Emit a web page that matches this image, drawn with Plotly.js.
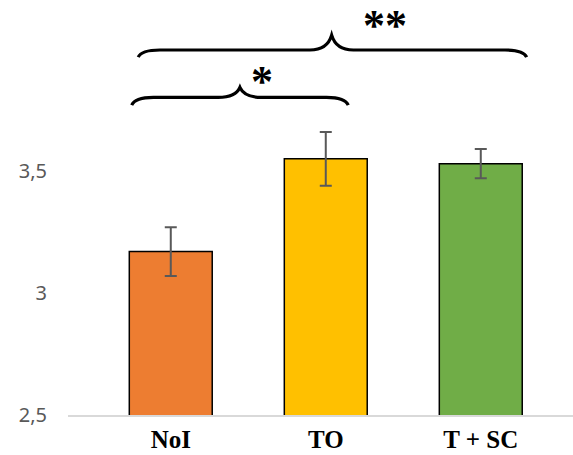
<!DOCTYPE html>
<html>
<head>
<meta charset="utf-8">
<script src="https://cdn.plot.ly/plotly-3.0.1.min.js"></script>
<style>
  html, body { margin: 0; padding: 0; background: #fff; }
  #chart { width: 573px; height: 455px; }
</style>
</head>
<body>
<div id="chart"></div>
<script>
// Group means with their error margins
const groups = ['NoI', 'TO', 'T + SC'];
const means = [3.17, 3.55, 3.53];
const errors = [0.10, 0.11, 0.06];
const barColors = ['#ED7D31', '#FFC000', '#70AD47'];

// Y axis ticks (decimal comma)
const yTickVals = [2.5, 3, 3.5];
const yTickText = ['2,5', '3', '3,5'];

// Significance markers for the two braces
const sigLabels = ['*', '**'];

const idx = groups.map((_, i) => i);

const trace = {
  type: 'bar',
  x: idx,
  y: means,
  width: 0.535,
  marker: { color: barColors, line: { color: '#000', width: 1.5 } },
  error_y: { type: 'data', array: errors, visible: true, color: '#595959', thickness: 2, width: 6 },
  hoverinfo: 'skip'
};

// Curly brace drawn as a path in data coordinates
function brace(x0, x1, xm, yEnd, yLine, yTip, r) {
  return 'M' + x0 + ',' + yEnd +
    ' Q' + (x0 + r * 0.15) + ',' + yLine + ' ' + (x0 + r) + ',' + yLine +
    ' L' + (xm - r) + ',' + yLine +
    ' Q' + (xm - r * 0.2) + ',' + yLine + ' ' + xm + ',' + yTip +
    ' Q' + (xm + r * 0.2) + ',' + yLine + ' ' + (xm + r) + ',' + yLine +
    ' L' + (x1 - r) + ',' + yLine +
    ' Q' + (x1 - r * 0.15) + ',' + yLine + ' ' + x1 + ',' + yEnd;
}

const shapes = [
  { type: 'path', xref: 'x', yref: 'y',
    path: brace(-0.252, 1.145, 0.446, 3.770, 3.802, 3.843, 0.14),
    line: { color: '#000', width: 3.2 } },
  { type: 'path', xref: 'x', yref: 'y',
    path: brace(-0.21, 2.296, 1.038, 3.967, 3.996, 4.057, 0.14),
    line: { color: '#000', width: 3.2 } }
];

const starFont = { family: 'Liberation Serif', size: 44, color: '#000', weight: 'bold' };
const annotations = [
  { x: 0.588, y: 3.866, xref: 'x', yref: 'y', text: sigLabels[0], showarrow: false,
    font: starFont, yanchor: 'middle' },
  { x: 1.385, y: 4.095, xref: 'x', yref: 'y', text: sigLabels[1], showarrow: false,
    font: starFont, yanchor: 'middle' }
];

const layout = {
  width: 573, height: 455,
  margin: { l: 68, r: 0, t: 0, b: 40 },
  paper_bgcolor: '#fff', plot_bgcolor: '#fff',
  showlegend: false,
  xaxis: {
    type: 'linear', range: [-0.663, 2.595],
    tickvals: idx, ticktext: groups,
    tickfont: { family: 'Liberation Serif', size: 25, color: '#000', weight: 'bold' },
    showgrid: false, zeroline: false, showline: true, linecolor: '#D9D9D9', linewidth: 1.5,
    ticks: '', ticklabelstandoff: 1, fixedrange: true
  },
  yaxis: {
    range: [2.5, 4.201],
    tickvals: yTickVals, ticktext: yTickText,
    tickfont: { family: 'Noto Sans', size: 20, color: '#595959' },
    showgrid: false, zeroline: false, showline: false,
    ticks: '', ticklabelstandoff: 20, fixedrange: true
  },
  shapes: shapes,
  annotations: annotations
};

Plotly.newPlot('chart', [trace], layout, { displayModeBar: false, staticPlot: true });
</script>
</body>
</html>
